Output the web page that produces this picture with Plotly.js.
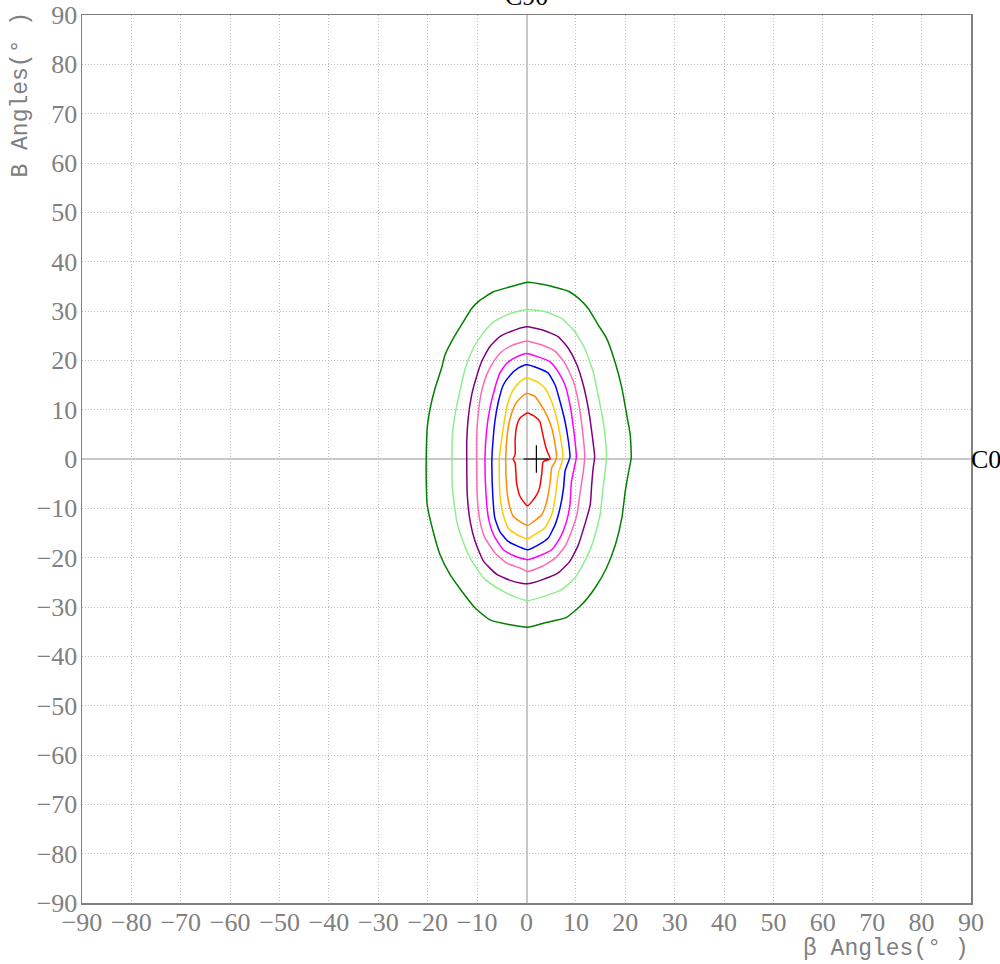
<!DOCTYPE html>
<html>
<head>
<meta charset="utf-8">
<script src="https://cdn.plot.ly/plotly-3.0.1.min.js"></script>
<style>html,body{margin:0;padding:0;background:#fff}#chart{width:1000px;height:964px}</style>
</head>
<body>
<div id="chart"></div>
<script>
// Iso-candela contours (beta angle, B angle), outer to inner
const contourNames = ["c1","c2","c3","c4","c5","c6","c7","c8","c9"];
const contourColors = ["#008000","#90EE90","#800080","#FF69B4","#FF00FF","#0000FF","#FFCC00","#FF8C00","#FF0000"];

const darkGreenX = [0,-3.3,-6.7,-9.4,-11.1,-12.8,-14.8,-16.5,-17.2,-18.5,-19.5,-20.1,-20.3,-20.3,-20.1,-18.9,-17.5,-15.5,-13.1,-10.4,-7.4,-3.3,0.2,3.7,8.1,11.2,13.9,16.2,18.0,19.3,20.0,20.6,21.2,21.0,20.3,19.3,18.0,16.2,14.5,12.5,10.5,8.5,3.7,0];
const darkGreenY = [35.8,34.9,33.9,32.2,30.5,27.8,24.5,21.1,18.4,14.4,10.3,6.3,0.2,-4.5,-9.3,-14.7,-19.4,-23.4,-26.8,-30.2,-32.6,-33.6,-34.1,-33.2,-32.1,-29.5,-26.1,-22.1,-17.4,-12.0,-6.5,-3.0,0.2,4.9,8.9,14.4,19.4,24.5,27.2,30.5,32.6,34.0,35.3,35.8];

const lightGreenX = [0,-3.3,-6.7,-9.1,-10.8,-12.4,-13.5,-14.5,-15.0,-15.1,-15.0,-14.1,-13.1,-11.4,-8.7,-6.0,-2.7,0.2,3.7,7.1,9.8,11.8,13.5,14.9,15.5,16.2,15.9,15.3,14.5,13.5,11.8,9.8,7.1,3.7,0];
const lightGreenY = [30.3,29.5,27.8,25.1,22.4,18.4,13.7,8.9,4.9,0.2,-5.9,-12.7,-16.0,-20.1,-24.1,-26.1,-27.8,-28.7,-27.8,-26.5,-24.1,-20.7,-16.7,-11.3,-5.9,0.2,4.9,8.9,13.0,17.7,22.4,25.8,28.5,29.9,30.3];

const purpleX = [0,-3.3,-5.4,-7.4,-9.1,-10.4,-11.1,-11.8,-12.1,-12.1,-12.0,-11.4,-10.4,-8.7,-6.0,-2.7,0.2,3.1,6.4,8.8,10.5,11.8,12.9,13.2,13.5,13.8,13.2,12.5,11.5,10.2,8.5,6.4,3.1,0];
const purpleY = [26.8,25.8,24.8,22.8,19.7,15.7,13.0,8.3,3.5,0.2,-7.2,-12.7,-16.7,-20.7,-23.4,-24.8,-25.3,-24.5,-23.1,-20.7,-17.4,-13.3,-9.3,-5.2,-1.8,0.4,5.6,10.3,15.0,19.1,22.4,24.8,26.2,26.8];

const hotPinkX = [0,-2.7,-5.0,-6.7,-8.1,-9.1,-9.8,-10.1,-10.1,-10.0,-9.4,-8.4,-6.4,-4.0,-1.3,0.2,3.1,5.8,7.8,9.1,10.2,10.8,11.5,11.8,11.2,10.5,9.5,7.8,5.8,3.1,0];
const hotPinkY = [23.9,23.1,21.8,19.7,17.0,13.7,8.9,4.2,0.2,-7.2,-12.7,-16.0,-19.0,-21.1,-22.1,-22.8,-21.8,-20.1,-17.7,-14.7,-11.3,-7.2,-2.5,0.4,6.9,11.6,15.7,19.4,21.8,23.1,23.9];

const magentaX = [0,-2.0,-4.0,-5.4,-6.4,-7.4,-8.1,-8.4,-8.2,-7.7,-6.7,-4.7,-2.3,0.2,2.4,5.1,6.8,8.1,8.8,9.1,9.8,10.1,9.5,8.8,7.8,6.4,4.8,2.4,0];
const magentaY = [21.4,20.7,19.4,17.4,14.4,10.3,5.6,0.2,-7.2,-12.0,-15.3,-18.4,-19.7,-20.4,-19.7,-18.4,-16.0,-12.7,-9.3,-4.6,-1.2,0.4,6.3,11.0,15.0,17.7,19.7,20.7,21.4];

const blueX = [0,-1.7,-3.3,-4.7,-5.7,-6.4,-6.8,-7.0,-6.8,-6.4,-5.4,-3.7,-1.7,0.2,2.4,4.4,5.8,6.8,7.5,7.8,8.5,8.8,8.5,7.8,6.8,5.8,4.4,2.4,0];
const blueY = [19.1,18.4,17.0,15.0,11.6,7.6,3.5,0.2,-7.9,-12.0,-14.7,-16.7,-17.7,-18.4,-17.4,-16.0,-13.3,-9.9,-5.9,-2.5,-0.5,0.4,3.5,7.6,11.6,15.0,17.4,18.4,19.1];

const goldX = [0,-1.3,-2.7,-3.7,-4.4,-5.0,-5.5,-5.4,-4.7,-3.7,-2.0,0.2,1.7,3.7,5.1,5.8,6.4,7.1,7.4,6.9,6.1,5.1,3.7,2.1,0];
const goldY = [16.4,15.7,14.0,11.6,8.3,4.2,0.2,-7.2,-11.3,-14.0,-15.3,-16.2,-15.3,-14.0,-11.3,-7.9,-3.2,-0.8,0.4,4.2,8.3,11.6,14.4,15.7,16.4];

const orangeX = [0,-1.3,-2.3,-3.3,-3.9,-4.2,-4.0,-3.5,-2.7,-1.3,0.2,1.4,3.1,4.1,4.8,5.1,5.8,6.1,5.8,5.1,4.1,2.7,1.7,0];
const orangeY = [13.3,12.3,11.0,8.3,4.9,0.2,-5.9,-9.3,-11.6,-12.7,-13.5,-12.7,-11.3,-8.6,-4.6,-1.8,-0.5,0.4,2.9,6.3,8.9,11.3,12.7,13.3];

const redX = [0.2,1.7,2.7,3.1,3.7,4.2,4.8,3.4,3.1,2.7,2.1,0.2,-1.3,-2.0,-2.3,-2.7,-2.3,-2.3,-2.0,-1.3,0.2];
const redY = [9.3,8.6,7.6,5.9,3.2,1.5,0,-0.5,-2.9,-5.6,-7.2,-9.5,-7.6,-4.9,-0.8,0,0.9,3.9,6.6,8.3,9.3];

// Peak marker (cross)
const crossX = [-0.6, 4.5, null, 2.0, 2.0];
const crossY = [0, 0, null, 2.8, -2.8];

const tickVals = [-90,-80,-70,-60,-50,-40,-30,-20,-10,0,10,20,30,40,50,60,70,80,90];
const tickText = ["\u221290","\u221280","\u221270","\u221260","\u221250","\u221240","\u221230","\u221220","\u221210","0","10","20","30","40","50","60","70","80","90"];

const xsets = [darkGreenX, lightGreenX, purpleX, hotPinkX, magentaX, blueX, goldX, orangeX, redX];
const ysets = [darkGreenY, lightGreenY, purpleY, hotPinkY, magentaY, blueY, goldY, orangeY, redY];

const traces = xsets.map((xs, i) => ({
  type: 'scatter', mode: 'lines', x: xs, y: ysets[i], name: contourNames[i],
  line: {color: contourColors[i], width: 1.5, shape: 'spline', smoothing: 0.5}, hoverinfo: 'skip'
}));
traces.push({type:'scatter', mode:'lines', x: crossX, y: crossY, line:{color:'#000', width:1.2}, hoverinfo:'skip'});

const tickFont = {family: '"Liberation Serif", "DejaVu Serif", serif', size: 26, color: '#808080'};

const axisBase = {
  range: [-90, 90], tickmode: 'array', tickvals: tickVals, ticktext: tickText,
  showgrid: true, gridcolor: '#bdbdbd', griddash: '1px,2px', gridwidth: 1,
  zeroline: true, zerolinecolor: '#c8c8c8', zerolinewidth: 2,
  showline: true, linecolor: '#808080', linewidth: 1.5, mirror: true,
  ticks: '', tickfont: tickFont, fixedrange: true
};

const layout = {
  width: 1000, height: 964,
  margin: {l: 82, r: 29, t: 15, b: 61},
  paper_bgcolor: '#fff', plot_bgcolor: '#fff',
  showlegend: false,
  xaxis: Object.assign({}, axisBase, {ticklabelstandoff: -5}),
  yaxis: Object.assign({}, axisBase, {ticklabelstandoff: -2}),
  annotations: [
    {text: 'C0', xref: 'paper', yref: 'y', x: 1, y: 0, xanchor: 'left', yanchor: 'middle', showarrow: false, xshift: -2,
     font: {family: '"Liberation Serif", serif', size: 26, color: '#000'}},
    {text: 'C90', xref: 'x', yref: 'paper', x: 0, y: 1, xanchor: 'center', yanchor: 'bottom', showarrow: false, yshift: 2,
     font: {family: '"Liberation Serif", serif', size: 26, color: '#000'}},
    {text: '\u03b2 Angles(\u00b0 )', xref: 'paper', yref: 'paper', x: 1, y: 0, xanchor: 'right', yanchor: 'top', showarrow: false, yshift: -31,
     font: {family: '"Liberation Mono", "DejaVu Sans Mono", monospace', size: 23, color: '#808080'}},
    {text: 'B Angles(\u00b0 )', xref: 'paper', yref: 'paper', x: -0.069, y: 0.91, xanchor: 'center', yanchor: 'middle', textangle: -90, showarrow: false,
     font: {family: '"Liberation Mono", "DejaVu Sans Mono", monospace', size: 23, color: '#808080'}}
  ]
};

Plotly.newPlot('chart', traces, layout, {displayModeBar: false, staticPlot: true});
</script>
</body>
</html>
